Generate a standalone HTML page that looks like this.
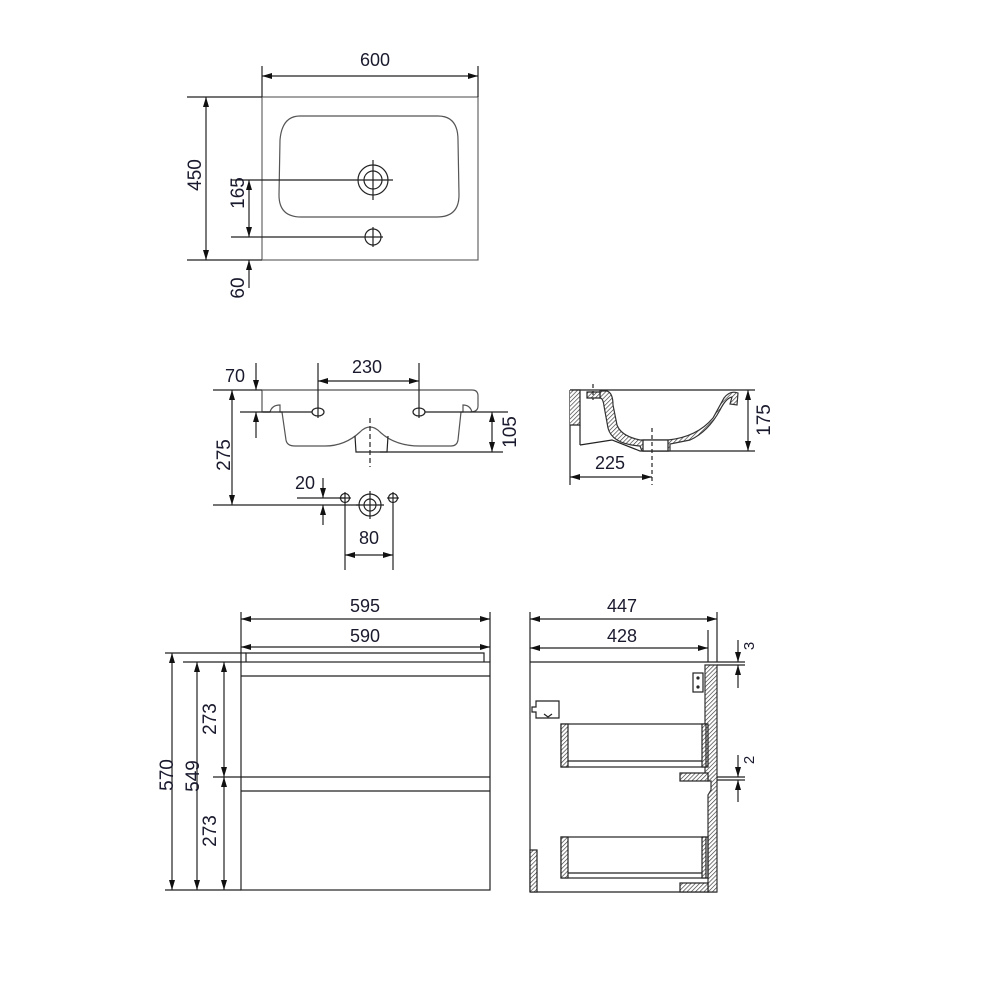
<!DOCTYPE html>
<html><head><meta charset="utf-8"><style>
html,body{margin:0;padding:0;background:#fff}
svg{display:block}
text{font-family:"Liberation Sans",sans-serif;font-size:18px;fill:#1a1a2e}
text.r{font-size:19px}
</style></head><body>
<svg width="1000" height="1000" viewBox="0 0 1000 1000" xmlns="http://www.w3.org/2000/svg">
<defs>
<marker id="a" viewBox="0 0 10 6" refX="10" refY="3" markerWidth="10" markerHeight="6" orient="auto-start-reverse" markerUnits="userSpaceOnUse"><path d="M0,0 L10,3 L0,6 z" fill="#111"/></marker>
<pattern id="h" width="3" height="3" patternUnits="userSpaceOnUse" patternTransform="rotate(45)"><rect width="3" height="3" fill="#fff"/><line x1="0" y1="0" x2="0" y2="3" stroke="#333" stroke-width="1.3"/></pattern>
</defs>
<g stroke="#222" stroke-width="1.2" fill="none">
<!-- TOP VIEW -->
<rect x="262" y="97" width="216" height="163" stroke="#666"/>
<path d="M300,116 L438,116 Q458,116 458,140 L459,195 Q459,217 437,217 L301,217 Q279,217 279,195 L280,140 Q282,116 300,116 Z" stroke="#555"/>
<circle cx="373" cy="180" r="15"/><circle cx="373" cy="180" r="9"/>
<line x1="373" y1="160" x2="373" y2="200"/><line x1="231" y1="180" x2="393" y2="180"/>
<circle cx="373" cy="237" r="8"/><line x1="373" y1="227" x2="373" y2="247"/><line x1="231" y1="237" x2="383" y2="237"/>
<line x1="262" y1="66" x2="262" y2="97"/><line x1="478" y1="66" x2="478" y2="97"/>
<line x1="262" y1="76" x2="478" y2="76" marker-start="url(#a)" marker-end="url(#a)"/>
<line x1="187" y1="97" x2="262" y2="97"/><line x1="187" y1="260" x2="262" y2="260"/>
<line x1="206" y1="97" x2="206" y2="260" marker-start="url(#a)" marker-end="url(#a)"/>
<line x1="249" y1="180" x2="249" y2="237" marker-start="url(#a)" marker-end="url(#a)"/>
<line x1="249" y1="288" x2="249" y2="260" marker-end="url(#a)"/>
<!-- FRONT SECTION -->
<path d="M262,390 L472,390 Q478,390 478,396 L478,406 Q478,412 470,412" stroke="#555"/>
<path d="M262,390 L262,412 L270,412 Q272,405 280,405 L280,412 L282,412 L286,440 Q287,446 295,446 L325,446 Q345,446 360,432 Q370,422 380,432 Q395,446 420,446 L451,446 Q457,446 458,440 L461,412 L463,412 L463,405 Q470,405 472,412" stroke="#555"/>
<path d="M270,412 L263,412"/>
<path d="M355,436 L356,452 L387,452 L388,436"/>
<line x1="370" y1="418" x2="370" y2="467" stroke-dasharray="5,3"/>
<ellipse cx="318" cy="412" rx="6" ry="4"/><ellipse cx="419" cy="412" rx="6" ry="4"/>
<line x1="318" y1="363" x2="318" y2="418"/><line x1="419" y1="363" x2="419" y2="418"/>
<line x1="318" y1="381" x2="419" y2="381" marker-start="url(#a)" marker-end="url(#a)"/>
<line x1="213" y1="390" x2="262" y2="390"/><line x1="240" y1="412" x2="312" y2="412"/><line x1="425" y1="412" x2="508" y2="412"/>
<line x1="256" y1="363" x2="256" y2="390" marker-end="url(#a)"/><line x1="256" y1="438" x2="256" y2="412" marker-end="url(#a)"/>
<line x1="232" y1="390" x2="232" y2="505" marker-start="url(#a)" marker-end="url(#a)"/>
<line x1="213" y1="505" x2="360" y2="505"/>
<line x1="380" y1="452" x2="503" y2="452"/>
<line x1="492" y1="412" x2="492" y2="452" marker-start="url(#a)" marker-end="url(#a)"/>
<circle cx="345" cy="498" r="4.5"/><line x1="339" y1="498" x2="351" y2="498"/><line x1="345" y1="492" x2="345" y2="570"/>
<circle cx="393" cy="498" r="4.5"/><line x1="387" y1="498" x2="399" y2="498"/><line x1="393" y1="492" x2="393" y2="570"/>
<circle cx="370" cy="505" r="11"/><circle cx="370" cy="505" r="6"/><line x1="370" y1="491" x2="370" y2="519"/><line x1="356" y1="505" x2="384" y2="505"/>
<line x1="297" y1="498" x2="345" y2="498"/>
<line x1="323" y1="478" x2="323" y2="498" marker-end="url(#a)"/><line x1="323" y1="525" x2="323" y2="505" marker-end="url(#a)"/>
<line x1="345" y1="555" x2="393" y2="555" marker-start="url(#a)" marker-end="url(#a)"/>
<!-- SIDE SECTION -->
<line x1="570" y1="390" x2="755" y2="390"/>
<line x1="570" y1="390" x2="570" y2="485"/>
<path d="M570,390 L580,390 L580,425 L570,425" fill="url(#h)"/>
<line x1="580" y1="425" x2="580" y2="445"/>
<path d="M580,445 L612,440 L640,451 L755,451"/>
<path d="M600,391 L607,391 Q613,393 613,405 L617,425 Q621,436 640,440 L668,440 Q697,437 713,418 L724,398 Q730,390 738,393 L737,405 L730,404 L732,397 Q726,398 720,410 Q708,432 690,440 L670,444 L670,451 L642,451 L640,446 Q612,444 608,428 L604,406 Q603,398 600,398 Z" fill="url(#h)" stroke="#333"/>
<path d="M587,392 L600,392 L600,398 L587,398 Z" fill="url(#h)"/>
<rect x="643" y="440" width="25" height="11" fill="#fff"/>
<line x1="593" y1="384" x2="593" y2="400" stroke-dasharray="4,3"/>
<line x1="652" y1="428" x2="652" y2="485" stroke-dasharray="4,3"/>
<line x1="748" y1="390" x2="748" y2="451" marker-start="url(#a)" marker-end="url(#a)"/>
<line x1="570" y1="477" x2="652" y2="477" marker-start="url(#a)" marker-end="url(#a)"/>
<!-- CABINET FRONT -->
<rect x="241" y="662" width="249" height="228"/>
<path d="M246,662 L246,653 L484,653 L484,662"/>
<line x1="241" y1="676" x2="490" y2="676"/>
<line x1="213" y1="777" x2="490" y2="777"/><line x1="241" y1="791" x2="490" y2="791"/>
<line x1="241" y1="612" x2="241" y2="662"/><line x1="490" y1="612" x2="490" y2="662"/>
<line x1="241" y1="619" x2="490" y2="619" marker-start="url(#a)" marker-end="url(#a)"/>
<line x1="241" y1="647" x2="490" y2="647" marker-start="url(#a)" marker-end="url(#a)"/>
<line x1="165" y1="653" x2="246" y2="653"/><line x1="183" y1="662" x2="241" y2="662"/>
<line x1="165" y1="890" x2="241" y2="890"/>
<line x1="172" y1="653" x2="172" y2="890" marker-start="url(#a)" marker-end="url(#a)"/>
<line x1="197" y1="662" x2="197" y2="890" marker-start="url(#a)" marker-end="url(#a)"/>
<line x1="224" y1="662" x2="224" y2="777" marker-start="url(#a)" marker-end="url(#a)"/>
<line x1="224" y1="777" x2="224" y2="890" marker-start="url(#a)" marker-end="url(#a)"/>
<!-- CABINET SIDE -->
<line x1="530" y1="612" x2="530" y2="892"/><line x1="717" y1="612" x2="717" y2="662"/>
<line x1="708" y1="630" x2="708" y2="662"/>
<line x1="530" y1="662" x2="745" y2="662"/>
<line x1="530" y1="892" x2="717" y2="892"/>
<line x1="530" y1="619" x2="717" y2="619" marker-start="url(#a)" marker-end="url(#a)"/>
<line x1="530" y1="648" x2="708" y2="648" marker-start="url(#a)" marker-end="url(#a)"/>
<path d="M709,665 L717,665 L717,892 L708,892 L708,795 L711,790 L711,781 L708,781 L708,777 L705,777 L705,665 Z" fill="url(#h)" stroke="#333"/>
<rect x="680" y="773" width="28" height="8" fill="url(#h)"/>
<rect x="680" y="883" width="28" height="9" fill="url(#h)"/>
<rect x="530" y="850" width="7" height="42" fill="url(#h)"/>
<rect x="693" y="673" width="10" height="19" fill="#fff"/>
<circle cx="698" cy="678" r="1" fill="#333"/><circle cx="698" cy="687" r="1" fill="#333"/>
<path d="M536,707 L536,701 L559,701 L559,718 L536,718 L536,712 L532,712 L532,707 Z"/>
<path d="M544,714 L548,717 L552,714" />
<rect x="561" y="724" width="147" height="43"/><rect x="561" y="724" width="7" height="43" fill="url(#h)"/><rect x="702" y="724" width="4" height="43" fill="url(#h)"/>
<line x1="568" y1="761" x2="702" y2="761"/>
<rect x="561" y="837" width="147" height="41"/><rect x="561" y="837" width="7" height="41" fill="url(#h)"/><rect x="702" y="837" width="4" height="41" fill="url(#h)"/>
<line x1="568" y1="873" x2="702" y2="873"/>
<line x1="717" y1="665" x2="745" y2="665"/><line x1="717" y1="777" x2="745" y2="777"/><line x1="717" y1="780" x2="745" y2="780"/>
<line x1="738" y1="640" x2="738" y2="662" marker-end="url(#a)"/><line x1="738" y1="688" x2="738" y2="665" marker-end="url(#a)"/>
<line x1="738" y1="755" x2="738" y2="777" marker-end="url(#a)"/><line x1="738" y1="802" x2="738" y2="780" marker-end="url(#a)"/>
</g>
<g>
<text x="375" y="66" text-anchor="middle">600</text>
<text class="r" transform="translate(201,175) rotate(-90)" text-anchor="middle">450</text>
<text class="r" transform="translate(244,193) rotate(-90)" text-anchor="middle">165</text>
<text class="r" transform="translate(244,288) rotate(-90)" text-anchor="middle">60</text>
<text x="367" y="373" text-anchor="middle">230</text>
<text x="235" y="382" text-anchor="middle">70</text>
<text class="r" transform="translate(230,455) rotate(-90)" text-anchor="middle">275</text>
<text class="r" transform="translate(516,432) rotate(-90)" text-anchor="middle">105</text>
<text x="305" y="489" text-anchor="middle">20</text>
<text x="369" y="544" text-anchor="middle">80</text>
<text x="610" y="469" text-anchor="middle">225</text>
<text class="r" transform="translate(770,420) rotate(-90)" text-anchor="middle">175</text>
<text x="365" y="612" text-anchor="middle">595</text>
<text x="365" y="642" text-anchor="middle">590</text>
<text class="r" transform="translate(173,775) rotate(-90)" text-anchor="middle">570</text>
<text class="r" transform="translate(199,776) rotate(-90)" text-anchor="middle">549</text>
<text class="r" transform="translate(216,719) rotate(-90)" text-anchor="middle">273</text>
<text class="r" transform="translate(216,831) rotate(-90)" text-anchor="middle">273</text>
<text x="622" y="612" text-anchor="middle">447</text>
<text x="622" y="642" text-anchor="middle">428</text>
<text transform="translate(754,646) rotate(-90)" text-anchor="middle" style="font-size:15px">3</text>
<text transform="translate(754,760) rotate(-90)" text-anchor="middle" style="font-size:15px">2</text>
</g>
</svg>
</body></html>
